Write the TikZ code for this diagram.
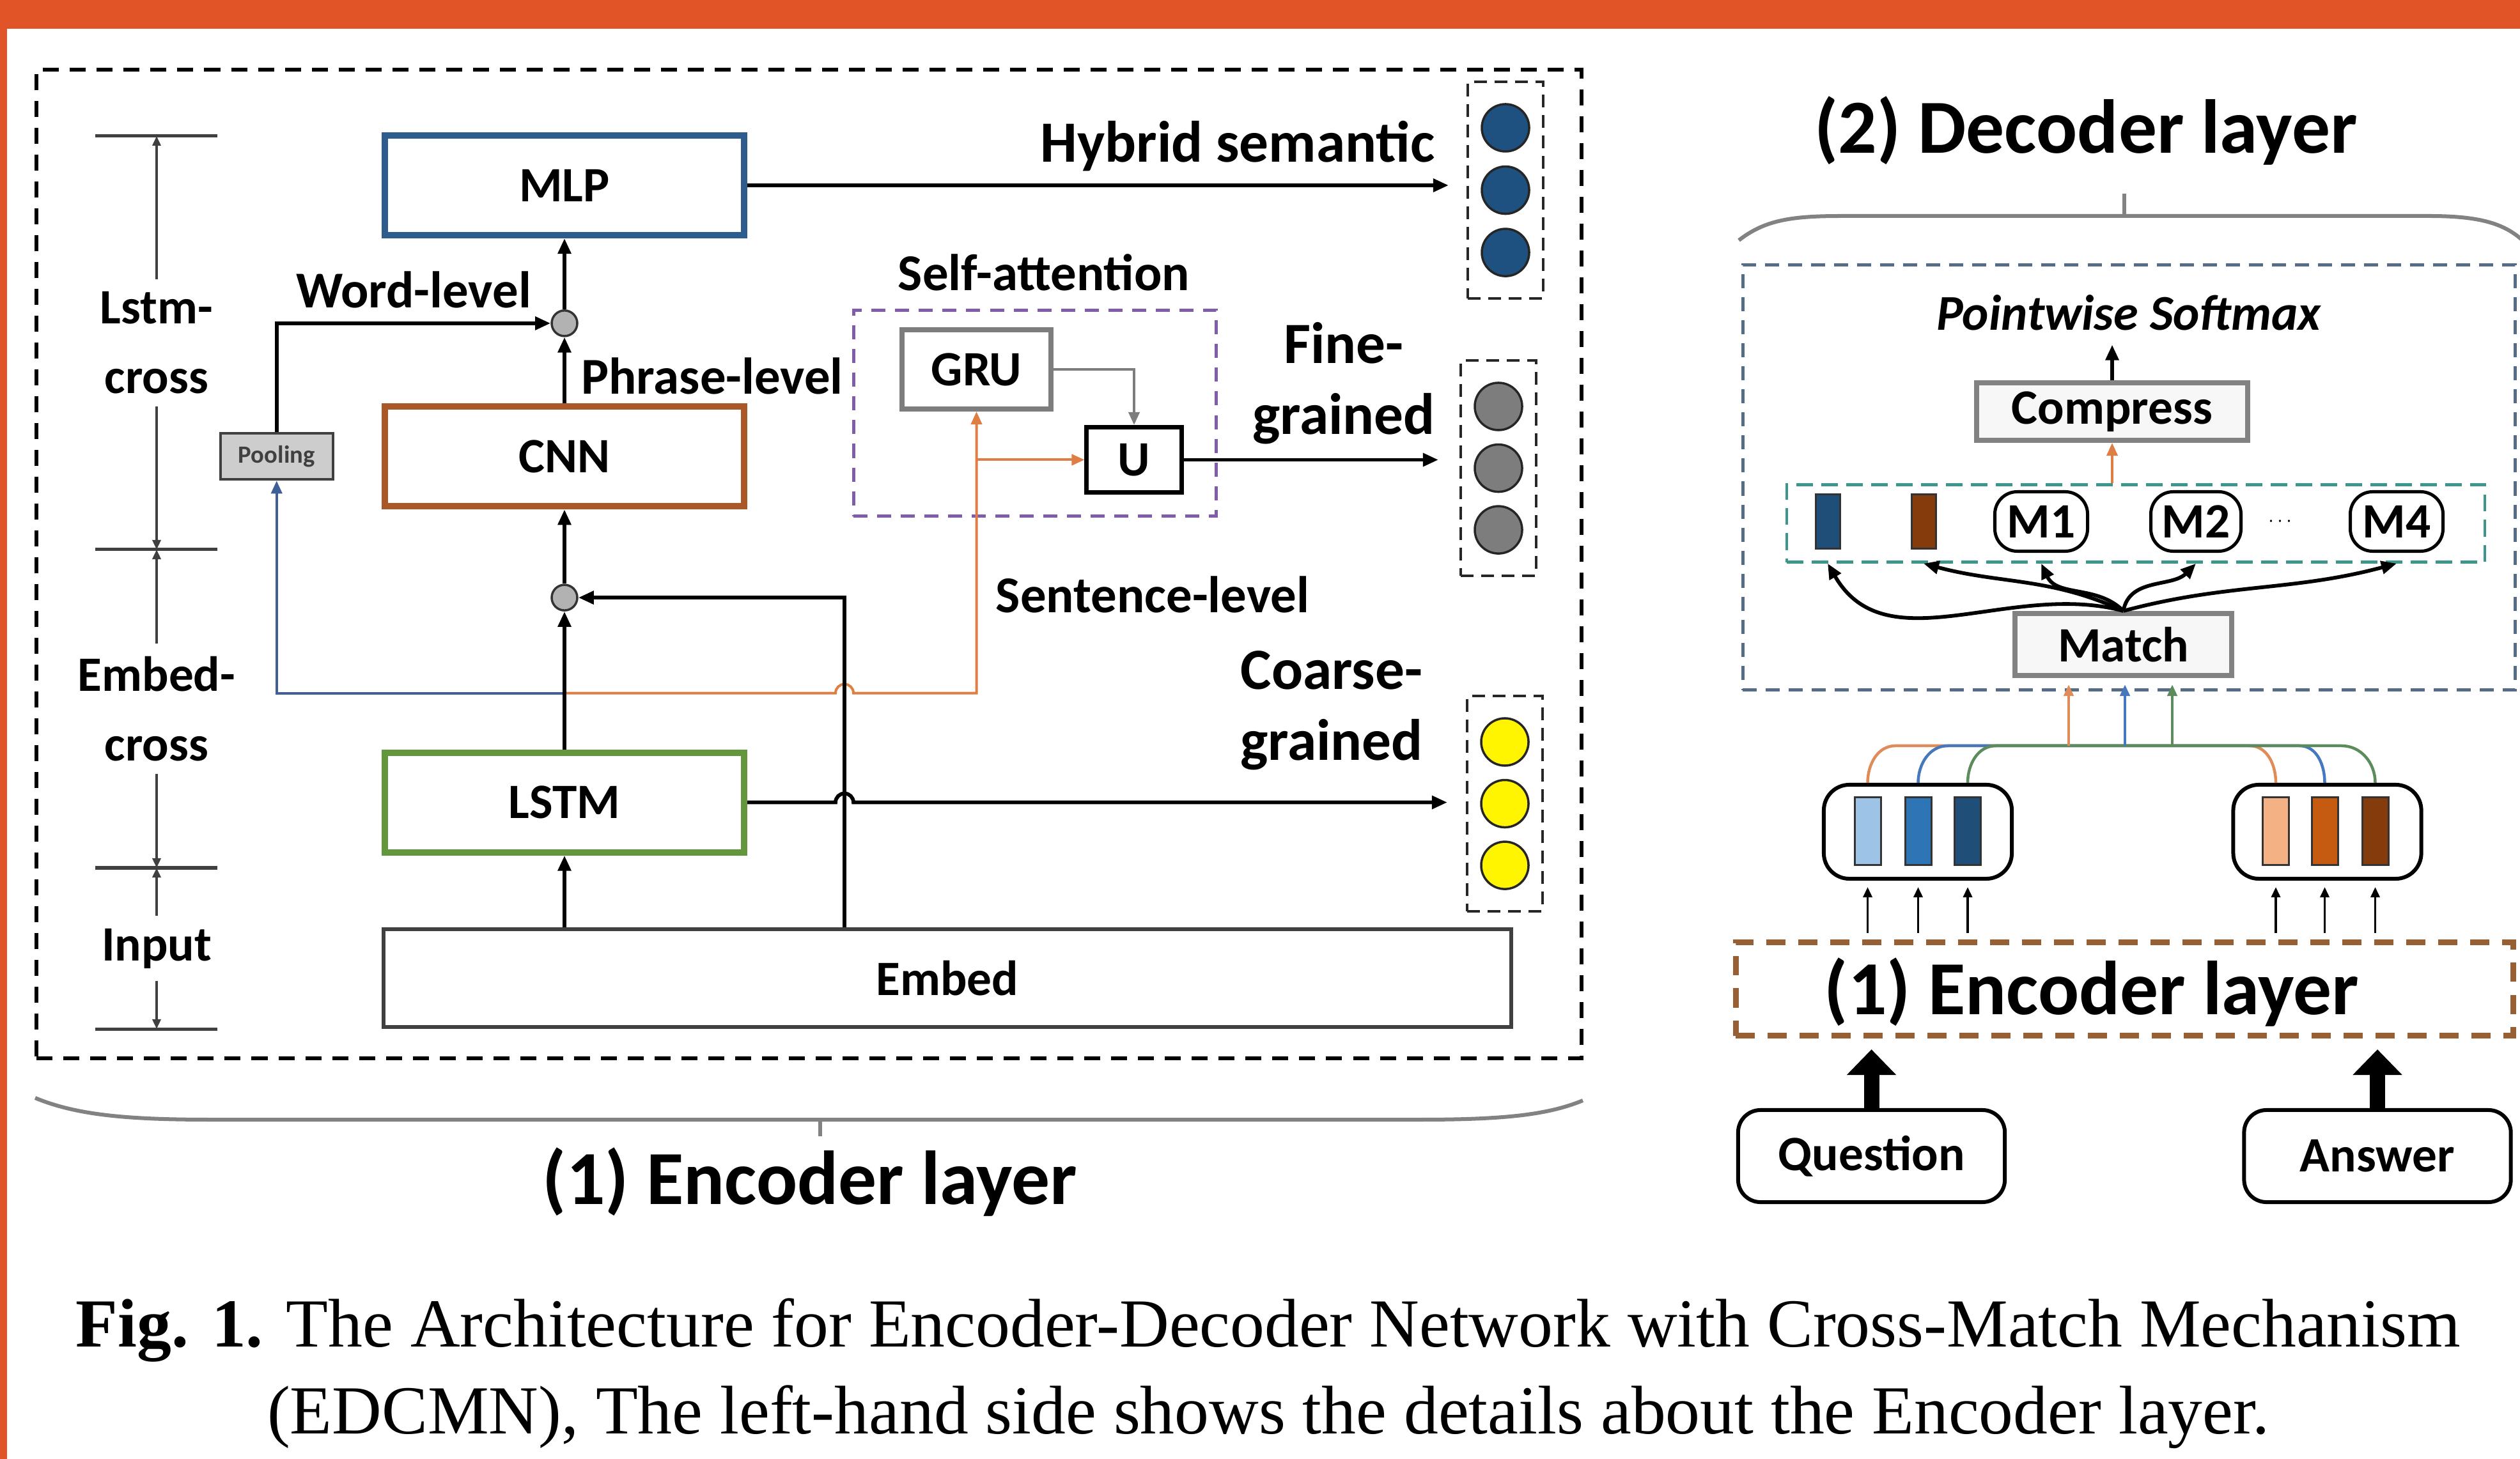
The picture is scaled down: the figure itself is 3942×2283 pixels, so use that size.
\documentclass[tikz,border=0pt]{standalone}
\usepackage{fontspec}
\setmainfont{Carlito}
\newfontfamily\captionfont{Liberation Serif}
\usetikzlibrary{arrows.meta,positioning,calc,fit}

\definecolor{framered}{RGB}{224,84,40}
\definecolor{mlpblue}{RGB}{46,92,140}
\definecolor{cnnbrown}{RGB}{170,88,40}
\definecolor{lstmgreen}{RGB}{100,150,62}
\definecolor{poolgray}{RGB}{205,205,205}
\definecolor{wireblue}{RGB}{62,96,150}
\definecolor{wireorange}{RGB}{222,126,68}
\definecolor{attpurple}{RGB}{128,92,170}
\definecolor{grugray}{RGB}{125,125,125}
\definecolor{hybblue}{RGB}{30,80,128}
\definecolor{coarseyellow}{RGB}{255,245,0}
\definecolor{decslate}{RGB}{84,108,134}
\definecolor{rowteal}{RGB}{60,150,140}
\definecolor{encbrown}{RGB}{150,96,52}
\definecolor{busgreen}{RGB}{92,140,92}
\definecolor{busblue}{RGB}{70,120,190}
\definecolor{busorange}{RGB}{222,140,90}
\definecolor{qlight}{RGB}{157,195,230}
\definecolor{qmid}{RGB}{46,117,182}
\definecolor{qdark}{RGB}{31,78,121}
\definecolor{alight}{RGB}{244,177,131}
\definecolor{amid}{RGB}{197,90,17}
\definecolor{adark}{RGB}{132,60,12}
\definecolor{bracegray}{RGB}{130,130,130}

\begin{document}
\begin{tikzpicture}[
    x=0.01cm, y=0.01cm,
    lbl/.style={font=\fontsize{23}{31}\selectfont\bfseries, align=center, inner sep=0pt},
    outlbl/.style={font=\fontsize{26}{31.5}\selectfont\bfseries, align=center, inner sep=0pt},
    headline/.style={font=\fontsize{34}{40}\selectfont\bfseries, inner sep=0pt},
    capline/.style={font=\captionfont\fontsize{30.6}{36}\selectfont, inner sep=0pt},
    layerbox/.style={rectangle, draw, line width=0.1cm, fill=white, minimum width=5.62cm, minimum height=1.56cm, font=\fontsize{22}{26}\selectfont\bfseries},
    mergept/.style={circle, draw=black!80, line width=0.035cm, fill=gray!60, minimum size=0.4cm, inner sep=0pt},
    vecunit/.style={circle, draw=black!85, line width=0.035cm, minimum size=0.74cm, inner sep=0pt},
    unitgroup/.style={draw=black!85, line width=0.045cm, dash pattern=on 0.2cm off 0.12cm, inner xsep=0.2cm, inner ysep=0.33cm},
    arr/.style={-{Triangle[length=0.24cm,width=0.2cm]}, line width=0.058cm},
    wire/.style={-{Triangle[length=0.2cm,width=0.17cm]}, line width=0.04cm},
    ruler/.style={{Triangle[length=0.15cm,width=0.13cm]}-{Triangle[length=0.15cm,width=0.13cm]}, line width=0.035cm, draw=black!75},
    rulertick/.style={line width=0.05cm, draw=black!75},
    rulerlbl/.style={font=\fontsize{22}{31}\selectfont\bfseries, align=center, fill=white, inner xsep=0.05cm, inner ysep=0.2cm},
    brace/.style={draw=bracegray, line width=0.06cm},
    decbox/.style={draw=decslate, line width=0.05cm, dash pattern=on 0.22cm off 0.14cm},
    rowbox/.style={draw=rowteal, line width=0.045cm, dash pattern=on 0.26cm off 0.13cm},
    grayblock/.style={draw=bracegray, line width=0.08cm, fill=gray!6, font=\fontsize{22}{26}\selectfont\bfseries},
    mbox/.style={draw, rounded corners=0.35cm, line width=0.05cm, minimum width=1.45cm, minimum height=0.93cm, fill=white, inner sep=0pt, font=\fontsize{22}{26}\selectfont\bfseries},
    rowbar/.style={draw=black!80, line width=0.03cm, minimum width=0.38cm, minimum height=0.84cm, inner sep=0pt},
    capsule/.style={draw, rounded corners=0.4cm, line width=0.06cm, minimum width=2.94cm, minimum height=1.47cm},
    capbar/.style={draw=black!80, line width=0.03cm, minimum width=0.41cm, minimum height=1.05cm, inner sep=0pt},
    encdash/.style={draw=encbrown, line width=0.09cm, dash pattern=on 0.3cm off 0.2cm, minimum width=12.16cm, minimum height=1.46cm},
    inbox/.style={draw, rounded corners=0.35cm, line width=0.06cm, minimum width=4.17cm, minimum height=1.44cm, fill=white, font=\fontsize{22}{26}\selectfont\bfseries},
    bigarr/.style={-{Triangle[length=0.4cm,width=0.75cm]}, line width=0.24cm},
    tinyarr/.style={-{Triangle[length=0.16cm,width=0.14cm]}, line width=0.035cm},
    bus/.style={line width=0.045cm},
    busarr/.style={-{Triangle[length=0.18cm,width=0.15cm]}, line width=0.045cm}
]

% Page and frame
\fill[white] (0,0) rectangle (3942,-2283);
\fill[framered] (0,0) rectangle (3942,-45);
\fill[framered] (0,0) rectangle (11,-2283);
\useasboundingbox (0,0) rectangle (3942,-2283);

% ---------------- Encoder layer (left) ----------------
\node[draw, line width=0.06cm, dash pattern=on 0.25cm off 0.17cm, minimum width=24.15cm, minimum height=15.47cm] (encframe) at (1265.5,-882.5) {};

% Level ruler
\coordinate (r1) at (245,-213);
\coordinate (r2) at (245,-860);
\coordinate (r3) at (245,-1358);
\coordinate (r4) at (245,-1610);
\draw[rulertick] (149,-213) -- (340,-213);
\draw[rulertick] (149,-860) -- (340,-860);
\draw[rulertick] (149,-1358) -- (340,-1358);
\draw[rulertick] (149,-1610) -- (340,-1610);
\draw[ruler] (r1) -- (r2) node[midway, rulerlbl] (lvlA) {Lstm-\\cross};
\draw[ruler] (r2) -- (r3) node[midway, rulerlbl] (lvlB) {Embed-\\cross};
\draw[ruler] (r3) -- (r4) node[midway, rulerlbl] (lvlC) {Input};

% Layer stack
\node[layerbox, draw=mlpblue] (mlp) at (883,-290) {MLP};
\node[layerbox, draw=cnnbrown, below=2.58cm of mlp] (cnn) {CNN};
\node[layerbox, draw=lstmgreen, below=3.75cm of cnn] (lstm) {LSTM};
\node[layerbox, draw=black!75, line width=0.06cm, minimum width=17.63cm, minimum height=1.53cm,
      below=1.12cm of lstm.south west, anchor=north west] (embed) {Embed};
\node[mergept, below=1.11cm of mlp] (c1) {};
\node[mergept, below=1.16cm of cnn] (c2) {};
\node[draw=black!75, line width=0.04cm, fill=poolgray, minimum width=1.76cm, minimum height=0.72cm,
      inner sep=0pt, font=\fontsize{11}{13}\selectfont\bfseries, text=black!75, left=0.74cm of cnn] (pool) {Pooling};
\coordinate (br) at ($(lstm.north)+(0,88)$);
\coordinate (skip) at ($(c2.center)+(438,0)$);

% Self-attention
\node[draw=attpurple, line width=0.05cm, dash pattern=on 0.22cm off 0.15cm, minimum width=5.67cm, minimum height=3.22cm] (sa) at (1619,-646.5) {};
\node[draw=grugray, line width=0.08cm, fill=white, minimum width=2.33cm, minimum height=1.24cm, font=\fontsize{22}{26}\selectfont\bfseries] (gru) at (1527.5,-578) {GRU};
\node[draw, line width=0.07cm, fill=white, minimum width=1.48cm, minimum height=1.02cm, font=\fontsize{22}{26}\selectfont\bfseries] (u) at (1774,-719.5) {U};

% Output vectors
\node[vecunit, fill=hybblue] (hb1) at (2355,-200) {};
\node[vecunit, fill=hybblue, below=0.2cm of hb1] (hb2) {};
\node[vecunit, fill=hybblue, below=0.2cm of hb2] (hb3) {};
\node[unitgroup, fit=(hb1)(hb3)] (hyb) {};
\node[vecunit, fill=grugray] (fg1) at (2344,-636) {};
\node[vecunit, fill=grugray, below=0.19cm of fg1] (fg2) {};
\node[vecunit, fill=grugray, below=0.19cm of fg2] (fg3) {};
\node[unitgroup, fit=(fg1)(fg3)] (fine) {};
\node[vecunit, fill=coarseyellow] (cg1) at (2354,-1161) {};
\node[vecunit, fill=coarseyellow, below=0.19cm of cg1] (cg2) {};
\node[vecunit, fill=coarseyellow, below=0.19cm of cg2] (cg3) {};
\node[unitgroup, fit=(cg1)(cg3)] (coarse) {};

% Colored feeds
\draw[wire, draw=wireblue] (br) -| (pool.south);
\draw[wire, draw=wireorange] (br) -- ($(skip |- br)+(-14,0)$) arc[start angle=180, end angle=0, radius=0.14cm] -| (gru.south);
\draw[wire, draw=wireorange] (gru.south |- u.west) -- (u.west);
\draw[wire, draw=grugray] (gru.east) -| (u.north);

% Main connections
\draw[arr] (lstm.south |- embed.north) -- (lstm.south);
\draw[arr] (lstm.north) -- (c2.south);
\draw[arr] (c2.north) -- (cnn.south);
\draw[arr] (cnn.north) -- (c1.south);
\draw[arr] (c1.north) -- (mlp.south);
\draw[arr] (pool.north) |- (c1.west);
\draw[arr] (skip |- embed.north) -- (skip) -- (c2.east);
\draw[arr, shorten >=0.28cm] (mlp.east) -- (mlp.east -| hyb.west);
\draw[arr, shorten >=0.33cm] (u.east) -- (u.east -| fine.west);
\draw[arr, shorten >=0.29cm] (lstm.east) -- ($(skip |- lstm.east)+(-14,0)$) arc[start angle=180, end angle=0, radius=0.14cm] -- (lstm.east -| coarse.west);

% Labels
\node[lbl] (wordlbl) at (647,-453) {Word-level};
\node[lbl] (phraselbl) at (1114,-588) {Phrase-level};
\node[lbl] (salbl) at (1633,-426) {Self-attention};
\node[lbl] (sentlbl) at (1803,-930) {Sentence-level};
\node[outlbl] (hyblbl) at (1936,-229) {Hybrid semantic};
\node[outlbl] (finelbl) at (2102,-600) {Fine-\\grained};
\node[outlbl] (coarselbl) at (2083,-1112) {Coarse-\\grained};

% Brace and title
\draw[brace] (55,-1718) .. controls (120,-1745) and (200,-1752) .. (330,-1752) -- (2220,-1752) .. controls (2350,-1752) and (2420,-1745) .. (2476,-1722);
\draw[brace] (1283,-1752) -- (1283,-1778);
\node[headline] (enctitle) at (1267,-1850) {(1) Encoder layer};

% ---------------- Decoder layer (right) ----------------
\node[headline] (dectitle) at (3263,-205) {(2) Decoder layer};
\draw[brace] (2720,-376) .. controls (2760,-345) and (2800,-338) .. (2880,-338) -- (3800,-338) .. controls (3880,-338) and (3920,-350) .. (3950,-380);
\draw[brace] (3323,-338) -- (3323,-303);
\node[decbox, minimum width=12.08cm, minimum height=6.65cm] (dec) at (3330.5,-747) {};

\node[font=\fontsize{22.3}{26}\selectfont\bfseries\itshape, inner sep=0pt] (psm) at (3330,-489) {Pointwise Softmax};
\node[grayblock, minimum width=4.24cm, minimum height=0.9cm] (comp) at (3304,-644) {Compress};
\node[rowbox, minimum width=10.91cm, minimum height=1.21cm] (row) at (3341,-819) {};
\node[rowbar, fill=qdark] (bb) at (2859,-816) {};
\node[rowbar, fill=adark] (bw) at (3009,-816) {};
\node[mbox] (m1) at (3193,-816) {M1};
\node[mbox, minimum width=1.41cm] (m2) at (3435,-816) {M2};
\node[inner sep=0pt, font=\small] (mdots) at (3567,-816) {$\cdots$};
\node[mbox] (m4) at (3749,-816) {M4};
\node[grayblock, minimum width=3.39cm, minimum height=0.97cm] (mt) at (3321.5,-1008.5) {Match};

\draw[arr, shorten >=0.22cm] (comp.north) -- (comp.north |- psm.south);
\draw[wire, draw=wireorange] (row.north -| comp.south) -- (comp.south);
\draw[arr] (mt.north) to[out=165, in=-60] (bb |- row.south);
\draw[arr] (mt.north) to[out=155, in=-15] (bw |- row.south);
\draw[arr] (mt.north) to[out=135, in=-65] (m1 |- row.south);
\draw[arr] (mt.north) to[out=80, in=-135] (m2 |- row.south);
\draw[arr] (mt.north) to[out=15, in=-165] (m4 |- row.south);

% Question / answer encodings
\node[capsule] (cq) at (3000,-1301.5) {};
\node[capsule] (ca) at (3640.5,-1301.5) {};
\node[capbar, fill=qlight] (qa) at (2921.5,-1300.5) {};
\node[capbar, fill=qmid] (qb) at (3000.5,-1300.5) {};
\node[capbar, fill=qdark] (qc) at (3078,-1300.5) {};
\node[capbar, fill=alight] (aa) at (3560,-1300.5) {};
\node[capbar, fill=amid] (ab) at (3636.5,-1300.5) {};
\node[capbar, fill=adark] (ac) at (3715.5,-1300.5) {};

\coordinate (bo) at (3236,-1167);
\coordinate (bb2) at (3324,-1167);
\coordinate (bg) at (3398,-1167);
\draw[bus, draw=busorange] (cq.north -| qa) to[out=90, in=180] (2965,-1167) -- (3519,-1167) to[out=0, in=90] (ca.north -| aa);
\draw[bus, draw=busblue] (cq.north -| qb) to[out=90, in=180] (3047,-1167) -- (3597,-1167) to[out=0, in=90] (ca.north -| ab);
\draw[bus, draw=busgreen] (cq.north -| qc) to[out=90, in=180] (3122,-1167) -- (3663,-1167) to[out=0, in=90] (ca.north -| ac);
\draw[busarr, draw=busorange, shorten >=0.1cm] (bo) -- (bo |- mt.south);
\draw[busarr, draw=busblue, shorten >=0.1cm] (bb2) -- (bb2 |- mt.south);
\draw[busarr, draw=busgreen, shorten >=0.1cm] (bg) -- (bg |- mt.south);

% Encoder block and inputs
\node[encdash] (encd) at (3323.5,-1547.5) {};
\node[headline] (encdlbl) at (3272,-1553) {(1) Encoder layer};
\node[inbox] (qn) at (2927.5,-1809) {Question};
\node[inbox] (an) at (3719,-1809) {Answer};

\draw[tinyarr, shorten <=0.1cm, shorten >=0.1cm] (qa |- encd.north) -- (qa |- cq.south);
\draw[tinyarr, shorten <=0.1cm, shorten >=0.1cm] (qb |- encd.north) -- (qb |- cq.south);
\draw[tinyarr, shorten <=0.1cm, shorten >=0.1cm] (qc |- encd.north) -- (qc |- cq.south);
\draw[tinyarr, shorten <=0.1cm, shorten >=0.1cm] (aa |- encd.north) -- (aa |- ca.south);
\draw[tinyarr, shorten <=0.1cm, shorten >=0.1cm] (ab |- encd.north) -- (ab |- ca.south);
\draw[tinyarr, shorten <=0.1cm, shorten >=0.1cm] (ac |- encd.north) -- (ac |- ca.south);
\draw[bigarr, shorten >=0.17cm] (qn.north) -- (qn.north |- encd.south);
\draw[bigarr, shorten >=0.17cm] (an.north) -- (an.north |- encd.south);

% Caption
\node[capline, anchor=base] (cap1) at (1984,-2107) {\textbf{Fig. 1.} The Architecture for Encoder-Decoder Network with Cross-Match Mechanism};
\node[capline, anchor=base] (cap2) at (1984,-2243) {(EDCMN), The left-hand side shows the details about the Encoder layer.};

\end{tikzpicture}
\end{document}
